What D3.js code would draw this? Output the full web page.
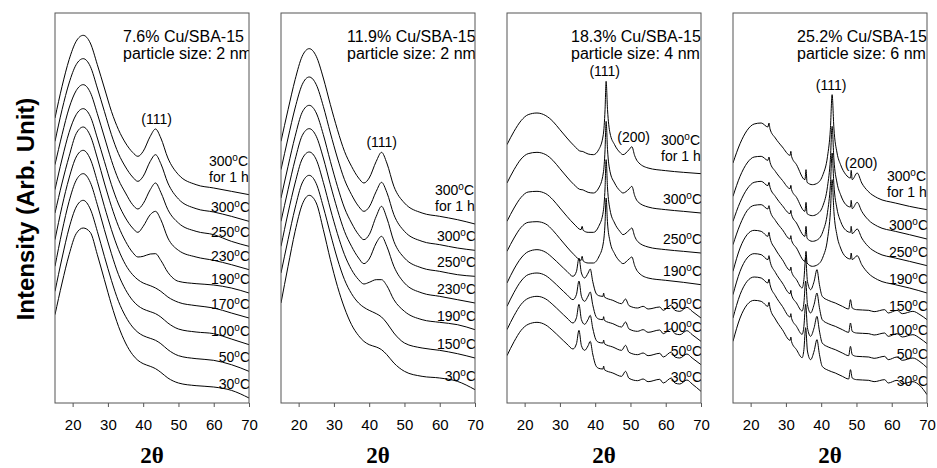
<!DOCTYPE html>
<html>
<head>
<meta charset="utf-8">
<script src="https://cdn.jsdelivr.net/npm/d3@7"></script>
<style>
body { margin: 0; background: #fff; }
svg { display: block; font-family: Arial, "Liberation Sans", sans-serif; }
</style>
</head>
<body>
<svg></svg>
<script>
//-------------------
// DATA (arb. intensity)
//-------------------
var xTicks = [20, 30, 40, 50, 60, 70];

// panel 1: 7.6% Cu/SBA-15
var p1Titles = ["7.6% Cu/SBA-15", "particle size: 2 nm"];
var p1Labels = ["300°C|for 1 h", "300°C", "250°C", "230°C", "190°C", "170°C", "100°C", "50°C", "30°C"];
var p1X = [15, 17, 19, 21, 23, 25, 27, 29, 31, 33, 35, 37, 38.5, 40, 42, 43.5, 45, 47, 50, 55, 60, 65, 70];
var p1Y = [
    [855, 950, 1030, 1085, 1103, 1080, 1015, 945, 875, 820, 780, 752, 740, 755, 800, 822, 795, 735, 685, 655, 645, 635, 625],
    [785, 880, 960, 1015, 1033, 1010, 945, 875, 805, 748, 708, 678, 665, 680, 725, 745, 718, 660, 612, 583, 573, 560, 545],
    [715, 805, 885, 937, 955, 932, 868, 798, 728, 670, 630, 595, 582, 598, 640, 660, 632, 580, 540, 515, 505, 485, 470],
    [640, 732, 812, 865, 883, 860, 795, 725, 655, 597, 555, 525, 512, 530, 565, 575, 550, 495, 458, 438, 428, 415, 400],
    [570, 660, 740, 808, 828, 802, 735, 660, 590, 530, 485, 452, 438, 440, 447, 448, 428, 392, 365, 358, 354, 345, 330],
    [490, 590, 675, 738, 758, 732, 665, 590, 520, 460, 415, 385, 370, 360, 352, 345, 335, 318, 302, 292, 285, 270, 255],
    [410, 515, 605, 668, 688, 662, 595, 520, 448, 385, 340, 308, 292, 282, 274, 268, 258, 240, 222, 213, 208, 192, 175],
    [335, 435, 525, 588, 608, 582, 515, 440, 368, 305, 260, 228, 212, 202, 194, 188, 178, 160, 142, 133, 128, 115, 95],
    [265, 360, 445, 508, 525, 512, 445, 370, 295, 230, 180, 145, 128, 118, 110, 103, 92, 75, 60, 52, 48, 38, 15]
];
var p1Peaks = [["(111)", 43.8]];

// panel 2: 11.9% Cu/SBA-15
var p2Titles = ["11.9% Cu/SBA-15", "particle size: 2 nm"];
var p2Labels = ["300°C|for 1 h", "300°C", "250°C", "230°C", "190°C", "150°C", "30°C"];
var p2X = [15, 17, 19, 21, 23, 25, 27, 29, 31, 33, 35, 37, 38.5, 40, 42, 43.5, 45, 47, 50, 55, 60, 65, 70];
var p2Y = [
    [785, 880, 970, 1040, 1063, 1040, 975, 895, 820, 755, 710, 675, 660, 675, 725, 752, 720, 650, 600, 570, 560, 550, 537],
    [700, 795, 885, 955, 978, 955, 890, 810, 735, 670, 625, 590, 575, 588, 635, 662, 632, 565, 515, 485, 475, 465, 458],
    [615, 710, 800, 872, 893, 870, 805, 725, 650, 585, 540, 505, 490, 505, 560, 590, 555, 485, 435, 405, 395, 385, 380],
    [545, 640, 730, 802, 823, 800, 735, 655, 580, 515, 470, 435, 418, 432, 480, 500, 470, 410, 360, 330, 320, 310, 300],
    [470, 570, 660, 732, 753, 730, 662, 582, 508, 445, 400, 370, 357, 362, 370, 370, 352, 310, 275, 250, 242, 235, 220],
    [390, 490, 585, 660, 683, 658, 588, 508, 432, 370, 328, 300, 287, 278, 268, 258, 240, 210, 180, 165, 158, 148, 135],
    [300, 410, 515, 595, 623, 600, 520, 430, 350, 285, 235, 202, 185, 175, 168, 160, 145, 120, 95, 80, 75, 65, 40]
];
var p2Peaks = [["(111)", 43.55]];

// panel 3: 18.3% Cu/SBA-15
var p3Titles = ["18.3% Cu/SBA-15", "particle size: 4 nm"];
var p3Labels = ["300°C|for 1 h", "300°C", "250°C", "190°C", "150°C", "100°C", "50°C", "30°C"];
var p3XCu = [15, 17, 19, 21, 23.5, 26, 28, 30, 32, 34, 36, 36.3, 36.6, 38, 39.5, 41, 42.3, 42.8, 43.1, 43.5, 44.2, 45.5, 47, 47.9, 49.6, 50.4, 51.2, 52, 55, 60, 65, 70];
var p3XCuO = [15, 17, 19, 21, 23.5, 26, 28, 30, 32, 33.7, 34.7, 35.4, 36.1, 37, 38, 38.6, 39.3, 40.2, 41, 42.2, 42.4, 42.6, 45, 47.5, 48.6, 49.6, 52, 53.6, 55, 58.3, 59.3, 61.6, 62.6, 64, 66, 67.5, 70];
var p3Y = [
    [775, 815, 847, 865, 870, 862, 845, 820, 795, 772, 755, 755, 754, 747, 745, 760, 805, 880, 965, 880, 810, 775, 752, 745, 760, 769, 742, 725, 705, 697, 692, 688],
    [660, 700, 732, 748, 752, 745, 728, 703, 678, 655, 640, 640, 639, 632, 630, 645, 690, 760, 845, 760, 695, 660, 637, 630, 642, 650, 622, 605, 588, 580, 575, 570],
    [545, 585, 617, 633, 635, 628, 610, 585, 560, 537, 520, 530, 518, 512, 512, 530, 575, 645, 730, 645, 580, 540, 515, 505, 518, 525, 500, 485, 468, 460, 455, 450],
    [455, 495, 527, 542, 544, 537, 518, 493, 468, 445, 428, 440, 426, 420, 420, 438, 480, 540, 615, 540, 485, 448, 425, 418, 432, 438, 412, 395, 375, 368, 362, 355],
    [360, 402, 435, 454, 460, 452, 435, 415, 395, 380, 395, 435, 390, 375, 390, 402, 365, 330, 322, 320, 330, 318, 308, 298, 312, 292, 285, 290, 282, 288, 278, 294, 278, 275, 287, 275, 255],
    [290, 332, 366, 385, 390, 382, 365, 345, 325, 310, 326, 366, 320, 305, 321, 333, 295, 260, 252, 250, 259, 248, 238, 228, 243, 222, 215, 220, 212, 219, 208, 223, 208, 205, 217, 205, 185],
    [220, 262, 296, 314, 320, 312, 295, 275, 255, 240, 256, 296, 250, 236, 251, 263, 225, 190, 182, 180, 189, 178, 168, 158, 173, 152, 145, 150, 142, 149, 138, 153, 138, 135, 147, 135, 115],
    [142, 184, 218, 236, 242, 234, 217, 197, 177, 162, 178, 218, 172, 158, 172, 185, 147, 112, 104, 102, 111, 100, 90, 80, 95, 74, 67, 72, 64, 71, 60, 75, 60, 57, 69, 57, 35]
];
var p3Peaks = [["(111)", 42.7], ["(200)", 50.9]];

// panel 4: 25.2% Cu/SBA-15
var p4Titles = ["25.2% Cu/SBA-15", "particle size: 6 nm"];
var p4Labels = ["300°C|for 1 h", "300°C", "250°C", "190°C", "150°C", "100°C", "50°C", "30°C"];
var p4XCu = [15, 17, 19, 21, 23, 24.9, 25.2, 25.5, 27, 29, 31.2, 31.4, 31.6, 33, 35.4, 35.7, 36, 37.5, 39, 40.5, 41.8, 42.6, 43.1, 43.6, 44.5, 45.5, 47, 48.3, 48.5, 48.8, 50.2, 51.5, 53.3, 56, 61, 65, 70];
var p4XCuO = [15, 17, 19, 21, 23, 24.9, 25.2, 25.5, 27, 29, 31.2, 31.4, 31.6, 33, 34.6, 35.1, 35.6, 36.1, 37, 38, 38.8, 39.5, 40.3, 42, 44, 46, 47.8, 48.3, 48.8, 50, 53.5, 55, 58, 59, 61.5, 63, 66, 68, 70];
var p4Y = [
    [720, 778, 818, 837, 840, 828, 840, 822, 795, 768, 743, 755, 740, 715, 670, 700, 662, 655, 660, 685, 740, 820, 925, 825, 750, 715, 685, 675, 698, 670, 690, 660, 635, 615, 600, 590, 580],
    [620, 680, 720, 738, 740, 728, 738, 722, 695, 668, 643, 653, 640, 617, 575, 602, 568, 562, 568, 592, 650, 730, 830, 732, 660, 625, 595, 588, 608, 583, 602, 575, 550, 530, 515, 505, 492],
    [545, 602, 642, 662, 665, 652, 662, 647, 620, 592, 568, 578, 565, 540, 500, 530, 494, 485, 490, 515, 572, 652, 750, 655, 582, 545, 518, 512, 530, 508, 522, 495, 470, 450, 435, 425, 412],
    [475, 535, 577, 593, 595, 582, 592, 577, 548, 520, 492, 502, 488, 465, 425, 455, 420, 410, 415, 438, 492, 572, 670, 575, 502, 465, 438, 432, 450, 430, 442, 415, 390, 370, 355, 345, 330],
    [395, 465, 505, 518, 515, 500, 512, 495, 462, 430, 398, 408, 394, 370, 345, 370, 435, 365, 340, 365, 400, 355, 320, 308, 300, 290, 282, 310, 285, 280, 278, 274, 280, 270, 278, 268, 275, 265, 250],
    [325, 395, 435, 448, 445, 430, 442, 425, 392, 360, 328, 338, 324, 300, 276, 300, 366, 296, 270, 296, 330, 286, 250, 238, 230, 220, 212, 240, 215, 210, 208, 204, 210, 200, 208, 198, 205, 194, 178],
    [255, 325, 365, 378, 375, 360, 372, 355, 322, 290, 258, 268, 254, 230, 206, 230, 296, 226, 200, 226, 260, 216, 180, 168, 160, 150, 142, 170, 145, 140, 138, 134, 140, 130, 138, 128, 135, 124, 106],
    [185, 255, 295, 308, 305, 290, 302, 285, 252, 220, 188, 198, 184, 160, 136, 160, 226, 156, 130, 156, 190, 146, 110, 98, 90, 80, 72, 100, 75, 70, 68, 64, 70, 60, 68, 58, 64, 52, 25]
];
var p4Peaks = [["(111)", 42.8], ["(200)", 51.3]];

//-------------------
// LAYOUT
//-------------------
var W = 937, H = 468;
var plotTop = 13, plotBottom = 403, pw = 194;
var lefts = [55, 281, 507, 733];

var panels = [
    { titles: p1Titles, titleDx: 68, labels: p1Labels, xs: [p1X], y: p1Y, cuoFrom: 99, peaks: p1Peaks },
    { titles: p2Titles, titleDx: 66, labels: p2Labels, xs: [p2X], y: p2Y, cuoFrom: 99, peaks: p2Peaks },
    { titles: p3Titles, titleDx: 64, labels: p3Labels, xs: [p3XCu, p3XCuO], y: p3Y, cuoFrom: 4, peaks: p3Peaks },
    { titles: p4Titles, titleDx: 64, labels: p4Labels, xs: [p4XCu, p4XCuO], y: p4Y, cuoFrom: 4, peaks: p4Peaks }
];

var svg = d3.select("svg").attr("width", W).attr("height", H);

var yScale = d3.scaleLinear().domain([0, 1170]).range([plotBottom, plotTop]);

// temperature label with a raised "o"
function tempText(sel, str) {
    var parts = str.split("°");
    sel.append("tspan").text(parts[0]);
    if (parts.length > 1) {
        sel.append("tspan").attr("dy", -5).attr("font-size", 10).text("o");
        sel.append("tspan").attr("dy", 5).text(parts[1]);
    }
}

panels.forEach(function (p, pi) {
    var left = lefts[pi];
    var xScale = d3.scaleLinear().domain([15, 70]).range([left, left + pw]);
    var g = svg.append("g");

    svg.append("clipPath").attr("id", "clip" + pi)
        .append("rect")
        .attr("x", left).attr("y", plotTop)
        .attr("width", pw).attr("height", plotBottom - plotTop);

    var inner = g.append("g").attr("clip-path", "url(#clip" + pi + ")");

    // curves
    var line = d3.line()
        .x(function (d) { return xScale(d[0]); })
        .y(function (d) { return yScale(d[1]); })
        .curve(d3.curveMonotoneX);

    p.y.forEach(function (vals, si) {
        var xs = si >= p.cuoFrom ? p.xs[1] : p.xs[0];
        var pts = vals.map(function (v, k) { return [xs[k], v]; });
        inner.append("path")
            .attr("d", line(pts))
            .attr("fill", "none")
            .attr("stroke", "#000")
            .attr("stroke-width", 1);
    });

    // curve labels
    p.labels.forEach(function (lab, si) {
        var last = p.y[si][p.y[si].length - 1];
        var yb = yScale(last) - 9;
        var lines = lab.split("|");
        if (lines.length > 1) {
            yb -= 4;
            var t1 = inner.append("text").attr("x", left + 154).attr("y", yb - 16).attr("font-size", 14);
            tempText(t1, lines[0]);
            inner.append("text").attr("x", left + 154).attr("y", yb).attr("font-size", 14).text(lines[1]);
        } else {
            var t = inner.append("text").attr("x", left + pw + 1).attr("y", yb)
                .attr("font-size", 14).attr("text-anchor", "end");
            tempText(t, lab);
        }
    });

    // peak labels
    p.peaks.forEach(function (pk) {
        var xs0 = p.xs[0];
        var best = 0;
        p.y[0].forEach(function (v, k) {
            if (Math.abs(xs0[k] - pk[1]) < 1.5 && v > best) best = v;
        });
        inner.append("text")
            .attr("x", xScale(pk[1])).attr("y", yScale(best) - 5)
            .attr("font-size", 14).attr("text-anchor", "middle")
            .text(pk[0]);
    });

    // titles
    p.titles.forEach(function (tt, k) {
        inner.append("text")
            .attr("x", left + p.titleDx).attr("y", 42 + k * 17)
            .attr("font-size", 16)
            .text(tt);
    });

    // frame
    g.append("rect")
        .attr("x", left).attr("y", plotTop)
        .attr("width", pw).attr("height", plotBottom - plotTop)
        .attr("fill", "none").attr("stroke", "#555").attr("stroke-width", 1);

    // x axis
    var ax = g.append("g")
        .attr("transform", "translate(0," + plotBottom + ")")
        .call(d3.axisBottom(xScale).tickValues(xTicks).tickSize(4).tickPadding(12));
    ax.select(".domain").remove();
    ax.selectAll(".tick line").attr("stroke", "#555");
    ax.selectAll(".tick text")
        .attr("font-size", 15)
        .attr("font-family", "Arial, 'Liberation Sans', sans-serif")
        .attr("fill", "#000");

    // 2θ
    svg.append("text")
        .attr("x", left + pw / 2).attr("y", 463)
        .attr("text-anchor", "middle")
        .attr("font-family", "'Liberation Serif', 'Times New Roman', serif")
        .attr("font-weight", "bold")
        .attr("font-size", 23)
        .text("2θ");
});

// y axis title
svg.append("text")
    .attr("transform", "translate(34,209) rotate(-90)")
    .attr("text-anchor", "middle")
    .attr("font-weight", "bold")
    .attr("font-size", 24)
    .text("Intensity (Arb. Unit)");
</script>
</body>
</html>
